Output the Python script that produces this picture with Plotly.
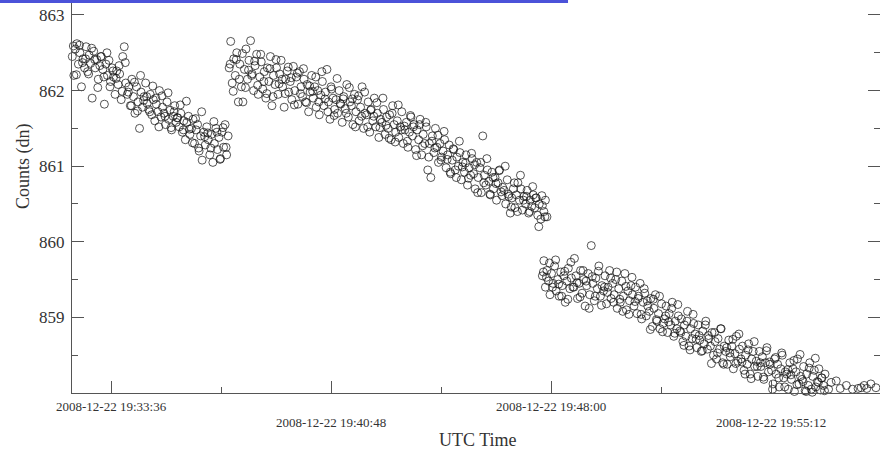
import pandas as pd
import plotly.graph_objects as go

# ---------------- data (seconds after 2008-12-22 19:32:00, counts in dn) ----------------
START = "2008-12-22 19:32:00"

seg1_sec = [20, 23, 26, 29, 32, 35, 38, 41, 44, 47,
            50, 53, 56, 59, 62, 65, 68, 71, 74, 77,
            80, 83, 86, 89, 92, 95, 98, 101, 104, 107,
            110, 113, 116, 119, 122, 125, 128, 131, 134, 137,
            140, 143, 146, 149, 152, 155, 158, 161, 164, 167,
            170, 173, 176, 179, 182, 185, 188, 191, 194, 197,
            200, 203, 206, 209, 212, 215, 218, 221, 224, 227,
            230, 233, 236, 239, 242, 245, 248, 251, 254, 257,
            260, 263, 266, 269, 272, 275, 278, 281, 284, 287,
            290, 293, 296, 299, 302, 305, 308, 311, 314, 317, 320, 323, 326]
seg1_counts = [862.45, 862.20, 862.55, 862.62, 862.35, 862.50, 862.05, 862.42, 862.30, 862.58,
               862.25, 862.47, 862.36, 861.90, 862.52, 862.30, 862.41, 862.15, 862.33, 862.45,
               862.28, 861.82, 862.35, 862.20, 862.40, 862.12, 862.30, 862.18, 861.95, 862.26,
               862.08, 862.22, 861.88, 862.45, 862.58, 862.10, 861.95, 862.05, 861.80, 862.15,
               861.92, 861.70, 862.05, 861.85, 861.50, 861.98, 861.78, 861.92, 862.10, 861.83,
               861.75, 861.95, 861.68, 861.88, 861.60, 861.82, 861.72, 862.00, 861.65, 861.78,
               861.70, 861.55, 861.85, 861.62, 861.74, 861.48, 861.66, 861.80, 861.58, 861.64,
               861.52, 861.70, 861.45, 861.60, 861.35, 861.58, 861.66, 861.42, 861.50, 861.62,
               861.30, 861.48, 861.55, 861.20, 861.40, 861.08, 861.45, 861.28, 861.52, 861.35,
               861.15, 861.42, 861.05, 861.30, 861.50, 861.22, 861.38, 861.10, 861.45, 861.25, 861.55, 861.15, 861.40]
seg1b_sec = [22, 28, 34, 40, 46, 52, 58, 64, 70, 76,
             82, 88, 94, 100, 106, 112, 118, 124, 130, 136,
             142, 148, 154, 160, 166, 172, 178, 184, 190, 196,
             202, 208, 214, 220, 226, 232, 238, 244, 250, 256,
             262, 268, 274, 280, 286, 292, 298, 304, 310, 316, 322]
seg1b_counts = [862.59, 862.21, 862.60, 862.37, 862.42, 862.22, 862.56, 862.41, 862.04, 862.45,
                862.18, 862.50, 862.05, 862.26, 862.16, 862.33, 861.99, 862.37, 861.98, 861.80,
                862.11, 861.73, 862.20, 861.87, 861.92, 861.72, 862.06, 861.90, 861.52, 861.93,
                861.66, 861.97, 861.51, 861.72, 861.64, 861.81, 861.48, 861.86, 861.49, 861.31,
                861.63, 861.24, 861.72, 861.39, 861.44, 861.24, 861.59, 861.45, 861.09, 861.51, 861.25]

seg2_sec = [328, 331, 334, 337, 340, 343, 346, 349, 352, 355,
            358, 361, 364, 367, 370, 373, 376, 379, 382, 385,
            388, 391, 394, 397, 400, 403, 406, 409, 412, 415,
            418, 421, 424, 427, 430, 433, 436, 439, 442, 445,
            448, 451, 454, 457, 460, 463, 466, 469, 472, 475,
            478, 481, 484, 487, 490, 493, 496, 499, 502, 505,
            508, 511, 514, 517, 520, 523, 526, 529, 532, 535,
            538, 541, 544, 547, 550, 553, 556, 559, 562, 565,
            568, 571, 574, 577, 580, 583, 586, 589, 592, 595,
            598, 601, 604, 607, 610, 613, 616, 619, 622, 625,
            628, 631, 634, 637, 640, 643, 646, 649, 652, 655,
            658, 661, 664, 667, 670, 673, 676, 679, 682, 685,
            688, 691, 694, 697, 700, 703, 706, 709, 712, 715,
            718, 721, 724, 727, 730, 733, 736, 739, 742, 745,
            748, 751, 754, 757, 760, 763, 766, 769, 772, 775,
            778, 781, 784, 787, 790, 793, 796, 799, 802, 805,
            808, 811, 814, 817, 820, 823, 826, 829, 832, 835,
            838, 841, 844, 847, 850, 853, 856, 859, 862, 865,
            868, 871, 874, 877, 880, 883, 886, 889, 892, 895,
            898, 901, 904, 907, 910, 913, 916, 919, 922, 925,
            928, 931, 934, 937, 940, 943, 946, 949, 952]
seg2_counts = [862.30, 862.65, 862.10, 862.42, 862.20, 862.50, 861.85, 862.35, 862.05, 861.85,
               862.28, 862.55, 862.15, 862.40, 862.66, 862.22, 862.00, 862.33, 862.48, 861.95,
               862.18, 862.38, 862.02, 862.25, 861.90, 862.30, 862.12, 862.45, 861.80, 862.20,
               862.08, 862.30, 861.95, 862.22, 862.40, 862.05, 861.78, 862.15, 862.26, 861.98,
               862.12, 861.88, 862.32, 862.00, 862.18, 861.82, 862.25, 862.05, 861.92, 862.15,
               861.85, 862.08, 861.72, 861.98, 862.20, 861.90, 862.05, 861.78, 862.00, 861.68,
               861.94, 862.12, 861.80, 861.98, 862.28, 861.85, 861.62, 862.02, 861.90, 861.75,
               861.88, 861.70, 862.00, 861.82, 861.58, 861.92, 861.76, 862.08, 861.65, 861.85,
               861.80, 861.55, 861.95, 861.72, 861.88, 861.60, 861.78, 862.05, 861.50, 861.70,
               861.68, 861.85, 861.45, 861.75, 861.60, 861.90, 861.52, 861.70, 861.38, 861.62,
               861.58, 861.75, 861.42, 861.65, 861.50, 861.68, 861.35, 861.80, 861.55, 861.45,
               861.60, 861.38, 861.52, 861.72, 861.30, 861.48, 861.58, 861.25, 861.45, 861.65,
               861.40, 861.55, 861.22, 861.48, 861.35, 861.62, 861.15, 861.42, 861.30, 861.52,
               860.95, 861.30, 860.85, 861.40, 861.18, 861.50, 861.25, 861.05, 861.30, 861.12,
               861.20, 861.35, 860.98, 861.15, 861.28, 860.90, 861.08, 861.22, 860.95, 861.12,
               861.00, 861.18, 860.82, 861.05, 860.92, 861.15, 860.75, 860.98, 860.88, 861.10,
               860.90, 860.70, 861.05, 860.85, 860.98, 860.65, 861.40, 860.88, 860.75, 860.95,
               860.80, 860.62, 860.92, 860.70, 860.85, 860.55, 860.78, 860.95, 860.66, 860.72,
               860.68, 860.50, 860.82, 860.60, 860.38, 860.58, 860.70, 860.45, 860.62, 860.78,
               860.55, 860.70, 860.42, 860.60, 860.50, 860.68, 860.38, 860.55, 860.47, 860.62,
               860.45, 860.58, 860.35, 860.50, 860.30, 860.48, 860.40, 860.55, 860.33]
seg2b_sec = [330, 336, 342, 348, 354, 360, 366, 372, 378, 384,
             390, 396, 402, 408, 414, 420, 426, 432, 438, 444,
             450, 456, 462, 468, 474, 480, 486, 492, 498, 504,
             510, 516, 522, 528, 534, 540, 546, 552, 558, 564,
             570, 576, 582, 588, 594, 600, 606, 612, 618, 624,
             630, 636, 642, 648, 654, 660, 666, 672, 678, 684,
             690, 696, 702, 708, 714, 720, 726, 732, 738, 744,
             750, 756, 762, 768, 774, 780, 786, 792, 798, 804,
             810, 816, 822, 828, 834, 840, 846, 852, 858, 864,
             870, 876, 882, 888, 894, 900, 906, 912, 918, 924,
             930, 936, 942, 948]
seg2b_counts = [862.35, 861.99, 862.41, 862.15, 862.49, 862.04, 862.27, 862.20, 862.39, 862.07,
                862.48, 862.12, 861.96, 862.29, 861.92, 862.41, 862.09, 862.15, 861.96, 862.31,
                862.17, 861.81, 862.23, 861.96, 862.29, 861.84, 862.06, 861.99, 862.18, 861.85,
                862.25, 861.89, 861.72, 862.05, 861.67, 862.16, 861.83, 861.89, 861.70, 862.04,
                861.89, 861.52, 861.93, 861.66, 861.98, 861.52, 861.74, 861.66, 861.84, 861.51,
                861.90, 861.54, 861.37, 861.70, 861.32, 861.81, 861.48, 861.53, 861.33, 861.67,
                861.52, 861.14, 861.55, 861.27, 861.58, 861.12, 861.33, 861.24, 861.41, 861.08,
                861.46, 861.09, 860.92, 861.23, 860.85, 861.33, 860.99, 861.04, 860.84, 861.17,
                861.02, 860.65, 861.05, 860.78, 861.10, 860.63, 860.85, 860.77, 860.94, 860.61,
                861.00, 860.63, 860.46, 860.78, 860.40, 860.88, 860.55, 860.60, 860.40, 860.73,
                860.58, 860.20, 860.61, 860.33]

seg3_sec = [943, 946, 949, 952, 955, 958, 961, 964, 967, 970,
            973, 976, 979, 982, 985, 988, 991, 994, 997, 1000,
            1003, 1006, 1009, 1012, 1015, 1018, 1021, 1024, 1027, 1030,
            1033, 1036, 1039, 1042, 1045, 1048, 1051, 1054, 1057, 1060,
            1063, 1066, 1069, 1072, 1075, 1078, 1081, 1084, 1087, 1090,
            1093, 1096, 1099, 1102, 1105, 1108, 1111, 1114, 1117, 1120,
            1123, 1126, 1129, 1132, 1135, 1138, 1141, 1144, 1147, 1150,
            1153, 1156, 1159, 1162, 1165, 1168, 1171, 1174, 1177, 1180,
            1183, 1186, 1189, 1192, 1195, 1198, 1201, 1204, 1207, 1210,
            1213, 1216, 1219, 1222, 1225, 1228, 1231, 1234, 1237, 1240,
            1243, 1246, 1249, 1252, 1255, 1258, 1261, 1264, 1267, 1270,
            1273, 1276, 1279, 1282, 1285, 1288, 1291, 1294, 1297, 1300,
            1303, 1306, 1309, 1312, 1315, 1318, 1321, 1324, 1327, 1330,
            1333, 1336, 1339, 1342, 1345, 1348, 1351, 1354, 1357, 1360,
            1363, 1366, 1369, 1372, 1375, 1378, 1381, 1384, 1387, 1390,
            1393, 1396, 1399, 1402, 1405, 1408, 1411, 1414, 1417, 1420,
            1423, 1426, 1429, 1432, 1435, 1438, 1441, 1444, 1447, 1450,
            1453, 1456, 1459, 1462, 1465, 1468, 1471, 1474, 1477, 1480,
            1483, 1486, 1489, 1492, 1495, 1498,
            1505, 1510, 1520, 1528, 1540, 1552, 1563, 1569, 1575, 1580, 1588, 1598]
seg3_counts = [859.55, 859.75, 859.40, 859.62, 859.48, 859.30, 859.58, 859.45, 859.68, 859.35,
               859.50, 859.28, 859.60, 859.42, 859.55, 859.20, 859.48, 859.65, 859.38, 859.52,
               859.40, 859.78, 859.55, 859.25, 859.45, 859.62, 859.32, 859.50, 859.15, 859.42,
               859.58, 859.30, 859.95, 859.45, 859.22, 859.52, 859.38, 859.68, 859.28, 859.42,
               859.35, 859.55, 859.18, 859.40, 859.62, 859.25, 859.45, 859.30, 859.50, 859.12,
               859.38, 859.20, 859.48, 859.28, 859.58, 859.10, 859.35, 859.22, 859.42, 859.30,
               859.15, 859.40, 859.05, 859.28, 859.45, 858.98, 859.20, 859.32, 859.02, 859.15,
               859.08, 859.25, 858.88, 859.12, 859.30, 858.95, 859.05, 858.85, 859.18, 858.92,
               858.98, 859.15, 858.80, 859.05, 858.90, 859.20, 858.75, 858.95, 858.85, 859.02,
               858.82, 858.98, 858.68, 858.90, 858.75, 859.08, 858.62, 858.85, 858.72, 858.92,
               858.78, 858.60, 858.90, 858.70, 858.55, 858.82, 858.65, 858.95, 858.58, 858.72,
               858.62, 858.80, 858.50, 858.68, 858.45, 858.72, 858.58, 858.85, 858.40, 858.62,
               858.55, 858.38, 858.70, 858.48, 858.62, 858.32, 858.52, 858.75, 858.42, 858.58,
               858.45, 858.62, 858.30, 858.50, 858.38, 858.65, 858.25, 858.45, 858.55, 858.35,
               858.42, 858.22, 858.55, 858.35, 858.48, 858.18, 858.40, 858.60, 858.28, 858.38,
               858.30, 858.12, 858.45, 858.25, 858.38, 858.08, 858.32, 858.50, 858.20, 858.28,
               858.25, 858.05, 858.40, 858.18, 858.32, 858.02, 858.28, 858.45, 858.12, 858.22,
               858.18, 858.35, 858.03, 858.25, 858.10, 858.40, 858.05, 858.22, 858.30, 858.08,
               858.15, 858.32, 858.04, 858.20, 858.10, 858.25,
               858.05, 858.14, 858.16, 858.06, 858.10, 858.05, 858.06, 858.07, 858.10, 858.06, 858.12, 858.07]
seg3b_sec = [945, 951, 957, 963, 969, 975, 981, 987, 993, 999,
             1005, 1011, 1017, 1023, 1029, 1035, 1041, 1047, 1053, 1059,
             1065, 1071, 1077, 1083, 1089, 1095, 1101, 1107, 1113, 1119,
             1125, 1131, 1137, 1143, 1149, 1155, 1161, 1167, 1173, 1179,
             1185, 1191, 1197, 1203, 1209, 1215, 1221, 1227, 1233, 1239,
             1245, 1251, 1257, 1263, 1269, 1275, 1281, 1287, 1293, 1299,
             1305, 1311, 1317, 1323, 1329, 1335, 1341, 1347, 1353, 1359,
             1365, 1371, 1377, 1383, 1389, 1395, 1401, 1407, 1413, 1419,
             1425, 1431, 1437, 1443, 1449, 1455, 1461, 1467, 1473, 1479,
             1485, 1491, 1497]
seg3b_counts = [859.60, 859.53, 859.72, 859.40, 859.76, 859.44, 859.28, 859.61, 859.24, 859.73,
                859.40, 859.46, 859.27, 859.62, 859.48, 859.12, 859.54, 859.28, 859.61, 859.16,
                859.40, 859.33, 859.52, 859.20, 859.60, 859.24, 859.08, 859.41, 859.04, 859.53,
                859.21, 859.25, 859.04, 859.38, 859.22, 858.84, 859.24, 858.97, 859.28, 858.81,
                859.02, 858.94, 859.12, 858.79, 859.17, 858.80, 858.63, 858.95, 858.57, 859.04,
                858.71, 858.76, 858.56, 858.90, 858.76, 858.39, 858.80, 858.53, 858.85, 858.38,
                858.60, 858.53, 858.71, 858.39, 858.78, 858.41, 858.25, 858.57, 858.19, 858.68,
                858.35, 858.40, 858.21, 858.56, 858.41, 858.05, 858.47, 858.20, 858.53, 858.08,
                858.31, 858.24, 858.43, 858.11, 858.51, 858.15, 858.02, 858.33, 858.01, 858.46,
                858.14, 858.20, 858.03]

x_tick_labels = ["2008-12-22 19:33:36", "2008-12-22 19:40:48",
                 "2008-12-22 19:48:00", "2008-12-22 19:55:12"]
y_tick_values = [859, 860, 861, 862, 863]
x_range = ["2008-12-22 19:32:19.4", "2008-12-22 19:58:46"]
y_range = [858, 863.198]

# ---------------- build ----------------
pairs = [(seg1_sec, seg1_counts), (seg1b_sec, seg1b_counts),
         (seg2_sec, seg2_counts), (seg2b_sec, seg2b_counts),
         (seg3_sec, seg3_counts), (seg3b_sec, seg3b_counts)]
for s, c in pairs:
    assert len(s) == len(c), (len(s), len(c))
secs = [v for s, _ in pairs for v in s]
counts = [v for _, c in pairs for v in c]
times = pd.Timestamp(START) + pd.to_timedelta(secs, unit="s")

SERIF = "Liberation Serif"
AX = "#555555"
TXT = "#333333"

fig = go.Figure()
fig.add_trace(go.Scatter(
    x=times, y=counts, mode="markers",
    marker=dict(symbol="circle-open", size=8, color="rgba(20,20,20,0.72)",
                line=dict(width=1)),
    showlegend=False, cliponaxis=False,
))

fig.update_layout(
    width=880, height=454,
    margin=dict(l=72, r=0, t=0, b=61),
    paper_bgcolor="white", plot_bgcolor="white",
    font=dict(family=SERIF, color=TXT),
    xaxis=dict(
        type="date", range=x_range, showgrid=False, zeroline=False,
        showline=True, linecolor=AX, linewidth=1, mirror=False,
        tickmode="array", tickvals=x_tick_labels, showticklabels=False,
        ticks="inside", ticklen=12, tickcolor=AX, tickwidth=1,
        minor=dict(ticks="inside", ticklen=6, tickcolor=AX, tickwidth=1,
                   tick0="2008-12-22 19:33:36", dtick=216000),
    ),
    yaxis=dict(
        range=y_range, showgrid=False, zeroline=False,
        showline=True, linecolor=AX, linewidth=1, mirror="allticks",
        tickmode="array", tickvals=y_tick_values,
        ticks="inside", ticklen=12, tickcolor=AX, tickwidth=1,
        tickfont=dict(family=SERIF, size=17, color=TXT),
        ticklabelstandoff=3,
        minor=dict(ticks="inside", ticklen=6, tickcolor=AX, tickwidth=1,
                   tick0=858, dtick=0.5),
    ),
)

annotations = []
row_y = [-0.0356, -0.0763]
for i, lab in enumerate(x_tick_labels):
    annotations.append(dict(x=lab, y=row_y[i % 2], xref="x", yref="paper",
                            text=lab, showarrow=False, xanchor="center", yanchor="middle",
                            font=dict(family=SERIF, size=13, color=TXT)))
annotations.append(dict(x=0.5025, y=-0.1196, xref="paper", yref="paper", text="UTC Time",
                        showarrow=False, xanchor="center", yanchor="middle",
                        font=dict(family=SERIF, size=18, color=TXT)))
annotations.append(dict(x=-0.0606, y=0.5776, xref="paper", yref="paper", text="Counts (dn)",
                        showarrow=False, textangle=-90, xanchor="center", yanchor="middle",
                        font=dict(family=SERIF, size=18, color=TXT)))
fig.update_layout(annotations=annotations)

fig.add_shape(type="rect", xref="paper", yref="paper",
              x0=-0.0891, x1=0.6139, y0=0.99237, y1=1.0,
              fillcolor="#4b52d9", line=dict(width=0), layer="above")

fig.write_html("out.html")
